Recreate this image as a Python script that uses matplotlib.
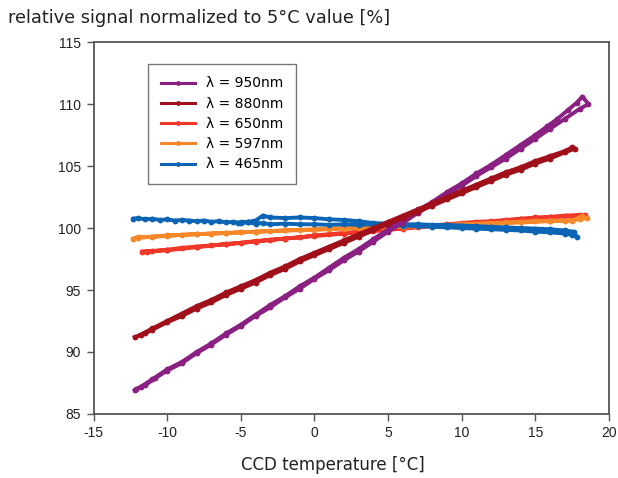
import matplotlib
matplotlib.use("Agg")
import matplotlib.pyplot as plt

# ==========================
# DATA (each series is a heating + cooling loop)
# ==========================

labels = ["λ = 950nm", "λ = 880nm", "λ = 650nm", "λ = 597nm", "λ = 465nm"]
colors = ["#8B2083", "#A0101A", "#F0382A", "#F7882A", "#0B64B4"]

x_950 = [-12.2, -11.5, -10.8, -10.0, -9.0, -8.0, -7.0, -6.0, -5.0, -4.0,
         -3.0, -2.0, -1.0, 0.0, 1.0, 2.0, 3.0, 4.0, 5.0, 6.0,
         7.0, 8.0, 9.0, 10.0, 11.0, 12.0, 13.0, 14.0, 15.0, 16.0,
         17.0, 18.0, 18.6,
         18.2, 17.8, 17.2, 16.5, 15.8, 15.0, 14.0, 13.0, 12.0, 11.0,
         10.0, 9.0, 8.0, 7.0, 6.0, 5.0, 4.0, 3.0, 2.0, 1.0,
         0.0, -1.0, -2.0, -3.0, -4.0, -5.0, -6.0, -7.0, -8.0, -9.0,
         -10.0, -11.0, -11.8, -12.1]
y_950 = [86.9, 87.3, 87.9, 88.5, 89.1, 89.9, 90.6, 91.4, 92.1, 92.9,
         93.6, 94.4, 95.1, 95.9, 96.6, 97.4, 98.1, 98.9, 99.7, 100.4,
         101.2, 101.9, 102.7, 103.4, 104.2, 104.9, 105.6, 106.4, 107.2, 108.0,
         108.8, 109.6, 110.0,
         110.6, 110.1, 109.5, 108.8, 108.2, 107.5, 106.7, 105.9, 105.1, 104.4,
         103.6, 102.9, 102.1, 101.4, 100.6, 99.9, 99.1, 98.3, 97.6, 96.8,
         96.0, 95.3, 94.5, 93.8, 93.0, 92.2, 91.5, 90.7, 90.0, 89.2,
         88.6, 87.8, 87.2, 87.0]

x_880 = [-12.2, -11.5, -11.0, -10.0, -9.0, -8.0, -7.0, -6.0, -5.0, -4.0,
         -3.0, -2.0, -1.0, 0.0, 1.0, 2.0, 3.0, 4.0, 5.0, 6.0,
         7.0, 8.0, 9.0, 10.0, 11.0, 12.0, 13.0, 14.0, 15.0, 16.0,
         17.0, 17.7,
         17.5, 17.0, 16.0, 15.0, 14.0, 13.0, 12.0, 11.0, 10.0, 9.0,
         8.0, 7.0, 6.0, 5.0, 4.0, 3.0, 2.0, 1.0, 0.0, -1.0,
         -2.0, -3.0, -4.0, -5.0, -6.0, -7.0, -8.0, -9.0, -10.0, -11.0,
         -11.8]
y_880 = [91.2, 91.5, 91.8, 92.4, 92.9, 93.5, 94.0, 94.6, 95.1, 95.6,
         96.2, 96.7, 97.3, 97.8, 98.3, 98.8, 99.3, 99.8, 100.3, 100.8,
         101.3, 101.8, 102.3, 102.8, 103.3, 103.8, 104.3, 104.7, 105.2, 105.6,
         106.1, 106.4,
         106.5, 106.2, 105.8, 105.4, 104.9, 104.5, 104.0, 103.5, 103.0, 102.5,
         102.0, 101.5, 101.0, 100.5, 100.0, 99.5, 99.0, 98.5, 98.0, 97.5,
         96.9, 96.4, 95.8, 95.3, 94.8, 94.2, 93.7, 93.1, 92.5, 91.9,
         91.4]

x_650 = [-11.7, -11.0, -10.0, -9.0, -8.0, -7.0, -6.0, -5.0, -4.0, -3.0,
         -2.0, -1.0, 0.0, 1.0, 2.0, 3.0, 4.0, 5.0, 6.0, 7.0,
         8.0, 9.0, 10.0, 11.0, 12.0, 13.0, 14.0, 15.0, 16.0, 17.0,
         18.0, 18.4,
         18.0, 16.0, 14.0, 12.0, 10.0, 8.0, 6.0, 4.0, 2.0, 0.0,
         -2.0, -4.0, -6.0, -8.0, -10.0, -11.4]
y_650 = [98.1, 98.15, 98.25, 98.4, 98.5, 98.6, 98.7, 98.8, 98.95, 99.05,
         99.15, 99.25, 99.4, 99.5, 99.6, 99.7, 99.8, 99.9, 100.0, 100.1,
         100.2, 100.3, 100.4, 100.5, 100.55, 100.65, 100.75, 100.85, 100.9, 101.0,
         101.05, 101.05,
         101.0, 100.85, 100.7, 100.5, 100.35, 100.15, 99.95, 99.75, 99.55, 99.35,
         99.15, 98.9, 98.7, 98.45, 98.2, 98.1]

x_597 = [-12.3, -12.0, -11.0, -10.0, -9.0, -8.0, -7.0, -6.0, -5.0, -4.0,
         -3.0, -2.0, -1.0, 0.0, 1.0, 2.0, 3.0, 4.0, 5.0, 6.0,
         7.0, 8.0, 9.0, 10.0, 11.0, 12.0, 13.0, 14.0, 15.0, 16.0,
         17.0, 18.0, 18.5, 18.2,
         17.5, 16.0, 14.0, 12.0, 10.0, 8.0, 6.0, 4.0, 2.0, 0.0,
         -2.0, -4.0, -6.0, -8.0, -10.0, -12.0]
y_597 = [99.15, 99.25, 99.3, 99.35, 99.45, 99.5, 99.55, 99.6, 99.65, 99.7,
         99.75, 99.8, 99.85, 99.9, 99.95, 100.0, 100.0, 100.05, 100.1, 100.15,
         100.2, 100.2, 100.25, 100.3, 100.35, 100.4, 100.45, 100.5, 100.55, 100.6,
         100.6, 100.7, 100.8, 100.95,
         100.6, 100.55, 100.45, 100.35, 100.25, 100.2, 100.1, 100.0, 99.95, 99.85,
         99.8, 99.7, 99.6, 99.5, 99.4, 99.2]

x_465 = [-12.3, -12.0, -11.5, -11.0, -10.5, -10.0, -9.5, -9.0, -8.5, -8.0,
         -7.5, -7.0, -6.5, -6.0, -5.5, -5.0, -4.5, -4.0, -3.5, -3.0,
         -2.0, -1.0, 0.0, 1.0, 2.0, 3.0, 4.0, 5.0, 6.0, 7.0,
         8.0, 9.0, 10.0, 11.0, 12.0, 13.0, 14.0, 15.0, 16.0, 17.0,
         17.5, 17.8,
         17.6, 17.0, 16.0, 15.0, 14.0, 13.0, 12.0, 11.0, 10.0, 9.0,
         8.0, 7.0, 6.0, 5.0, 4.0, 3.0, 2.0, 1.0, 0.0, -1.0,
         -2.0, -3.0, -3.5, -4.0, -4.5, -5.0, -5.2]
y_465 = [100.75, 100.8, 100.7, 100.75, 100.65, 100.7, 100.6, 100.65, 100.6, 100.55,
         100.6, 100.5, 100.55, 100.45, 100.5, 100.4, 100.45, 100.35, 100.4, 100.3,
         100.35, 100.3, 100.3, 100.25, 100.3, 100.25, 100.3, 100.25, 100.2, 100.15,
         100.1, 100.05, 100.0, 99.95, 99.9, 99.85, 99.8, 99.7, 99.65, 99.55,
         99.45, 99.3,
         99.7, 99.8, 99.9, 99.95, 100.0, 100.05, 100.1, 100.15, 100.2, 100.25,
         100.25, 100.3, 100.3, 100.35, 100.4, 100.55, 100.65, 100.7, 100.8, 100.85,
         100.8, 100.85, 101.0, 100.6, 100.5, 100.45, 100.4]

series_x = [x_950, x_880, x_650, x_597, x_465]
series_y = [y_950, y_880, y_650, y_597, y_465]
zorders = [4, 5, 2, 2.5, 3]

xticks = [-15, -10, -5, 0, 5, 10, 15, 20]
yticks = [85, 90, 95, 100, 105, 110, 115]

# ==========================
# PLOT
# ==========================

fig = plt.figure(figsize=(6.18, 4.78), dpi=100)
ax = fig.add_axes([0.1513, 0.1339, 0.8341, 0.7782])

spine_color = "#555555"

handles = []
for xs, ys, c, lab, z in zip(series_x, series_y, colors, labels, zorders):
    ax.plot(
        xs, ys,
        color=c,
        linewidth=2.8,
        marker="o",
        markersize=4.2,
        markeredgewidth=0,
        zorder=z
    )
    # thinner proxy for the legend
    h, = ax.plot([], [], color=c, linewidth=2.2, marker="o",
                 markersize=3.5, markeredgewidth=0, label=lab)
    handles.append(h)

ax.set_xlim(-15, 20)
ax.set_ylim(85, 115)
ax.set_xticks(xticks)
ax.set_yticks(yticks)
ax.set_xticklabels([str(t) for t in xticks], family="Liberation Sans", fontsize=10)
ax.set_yticklabels([str(t) for t in yticks], family="Liberation Sans", fontsize=10)

for s in ax.spines.values():
    s.set_color(spine_color)
    s.set_linewidth(1.3)

ax.tick_params(direction="out", length=5, width=1, color=spine_color,
               labelcolor="#222222", pad=4)

leg = ax.legend(
    handles=handles,
    loc="upper left",
    bbox_to_anchor=(0.106, 0.941),
    fontsize=10,
    frameon=True,
    fancybox=False,
    edgecolor=spine_color,
    handlelength=2.5,
    labelspacing=0.45,
    borderpad=0.9,
    borderaxespad=0
)
leg.get_frame().set_linewidth(1.0)

fig.text(8 / 618, 1 - 18 / 478, "relative signal normalized to 5°C value [%]",
         fontsize=12.8, ha="left", va="center", color="#222222")
fig.text(333 / 618, 1 - 465 / 478, "CCD temperature [°C]",
         fontsize=12, ha="center", va="center", color="#222222")

fig.savefig("out.png", dpi=100)
plt.close(fig)
